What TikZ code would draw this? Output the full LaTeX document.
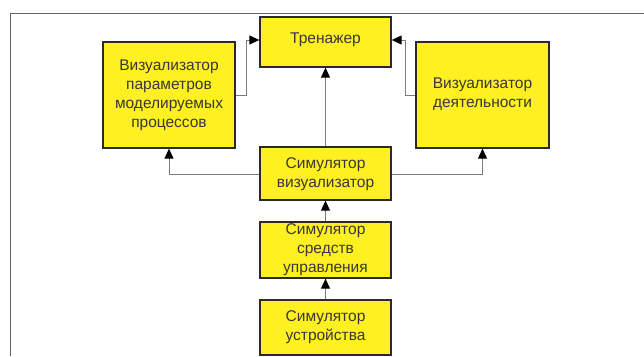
\documentclass[tikz,border=0pt]{standalone}
\usepackage{fontspec}
\setmainfont{Liberation Sans}
\usetikzlibrary{arrows.meta}
\definecolor{boxyellow}{HTML}{FFF022}
\definecolor{boxline}{HTML}{2A2A2A}
\definecolor{txt}{HTML}{383838}
\definecolor{conn}{HTML}{7A7A7A}
\begin{document}
\begin{tikzpicture}[x=1pt,y=-1pt,
  blk/.style={draw=boxline,line width=1.3pt,fill=boxyellow,
    font=\fontsize{15.5}{19}\selectfont,align=center,inner sep=0pt},
  lbl/.style={text=txt,font=\fontsize{15.5}{19}\selectfont,align=center,inner sep=0pt},
  arr/.style={draw=conn,line width=1pt,-{Triangle[length=10pt,width=9pt,color=black]}}]
\useasboundingbox (0,0) rectangle (644,356);
\draw[draw=conn!80!black,line width=1pt] (10,356) -- (10,13) -- (644,13);
\node[blk,minimum width=131pt,minimum height=50pt] (tr) at (325.5,42) {};
\node[lbl] (trl) at (325.5,40) {Тренажер};
\node[blk,minimum width=132pt,minimum height=106pt] (vp) at (169,95) {};
\node[lbl] (vpl) at (169,95) {Визуализатор\\параметров\\моделируемых\\процессов};
\node[blk,minimum width=133pt,minimum height=106pt] (vd) at (482.5,95) {};
\node[lbl] (vdl) at (482.5,94) {Визуализатор\\деятельности};
\node[blk,minimum width=131pt,minimum height=53pt] (sv) at (325.5,173.5) {};
\node[lbl] (svl) at (325.5,174) {Симулятор\\визуализатор};
\node[blk,minimum width=131pt,minimum height=56pt] (su) at (325.5,250) {};
\node[lbl] (sul) at (325.5,250) {Симулятор\\средств\\управления};
\node[blk,minimum width=131pt,minimum height=55pt] (sd) at (325.5,327.5) {};
\node[lbl] (sdl) at (325.5,327) {Симулятор\\устройства};
\coordinate (ta) at (tr.west |- 0,40);
\coordinate (tb) at (tr.east |- 0,40);
\draw[arr] (vp.east |- 0,95) -| (246,40) -- (ta);
\draw[arr] (vd.west |- 0,95) -| (405,40) -- (tb);
\draw[arr] (sv.north) -- (tr.south);
\draw[arr] (sv.west |- 0,174) -| (vp.south);
\draw[arr] (sv.east |- 0,174) -| (vd.south);
\draw[arr] (su.north) -- (sv.south);
\draw[arr] (sd.north) -- (su.south);
\end{tikzpicture}
\end{document}
